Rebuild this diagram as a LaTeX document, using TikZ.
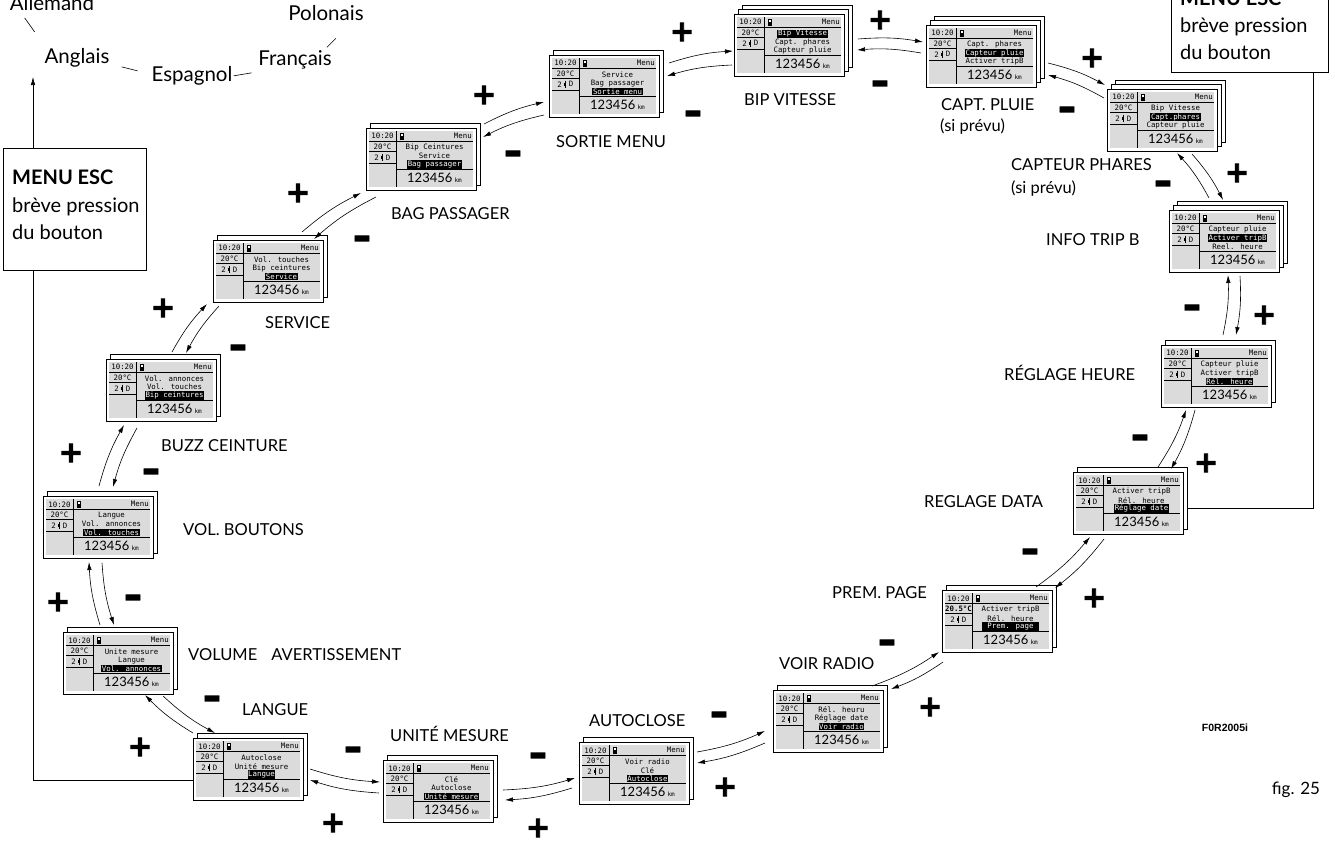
\documentclass[tikz,border=0pt]{standalone}
\usepackage{fontspec}
\setmainfont{Lato}
\newfontfamily\lcdf{DejaVu Sans Mono}
\newfontfamily\heavy{DejaVu Sans Bold}[FakeBold=3]
\newfontfamily\arialf{Liberation Sans}
\usetikzlibrary{arrows.meta,calc}
\definecolor{lcdgray}{gray}{0.86}
\newcommand\hlt[1]{{\setlength{\fboxsep}{0.6pt}\colorbox{black}{\textcolor{white}{#1}}}}
\tikzset{
  layer/.style={draw,fill=white,line width=0.7pt},
  scrn/.style={draw,fill=white,line width=0.7pt,anchor=north west,inner sep=0pt,minimum width=110pt,minimum height=62pt},
  lcdline/.style={line width=0.6pt},
  lcdt/.style={inner sep=0pt,font=\lcdf\fontsize{7.4}{8}\selectfont},
  lab/.style={anchor=mid west,inner sep=0pt,font=\fontsize{16.5}{18}\selectfont},
  lang/.style={anchor=mid,inner sep=0pt,font=\fontsize{20.5}{22}\selectfont},
  plus/.style={inner sep=0pt,font=\heavy\fontsize{29}{29}\selectfont},
  minus/.style={inner sep=0pt,font=\heavy\fontsize{24}{24}\selectfont},
  arr/.style={-{Latex[length=8pt,width=4.5pt]},line width=0.6pt},
  cw/.style={bend left=7},
  ccw/.style={bend right=7},
}
\newcommand\lcd[8]{%
  \ifnum#4>2\relax \draw[layer] (#2+8,#3-9) rectangle ++(110,62);\fi
  \draw[layer] (#2+4,#3-4.5) rectangle ++(110,62);
  \node[scrn] (#1) at (#2,#3) {};
  \begin{scope}[shift={(#1.north west)}]
    \fill[lcdgray] (3,3) rectangle (107,59);
    \draw[lcdline] (30,3) -- (30,59) (3,13) -- (107,13) (3,23.5) -- (30,23.5) (3,35) -- (30,35) (30,41.5) -- (107,41.5);
    \node[lcdt] at (16.5,8.3) {10:20};
    \node[lcdt] at (16.5,18.6) {#8};
    \node[lcdt] at (10.5,29.3) {2};
    \node[lcdt] at (22,29.3) {D};
    \draw[line width=0.5pt] (16,25.5) -- (16,33);
    \fill (15,27.5) rectangle (17,30.5);
    \fill (33.5,5) rectangle (38,12);
    \fill[white] (34.5,6.2) rectangle (37,8);
    \node[lcdt,anchor=east] at (106,8.3) {Menu};
    \node[lcdt] at (68.5,19.8) {#5};
    \node[lcdt] at (68.5,28.1) {#6};
    \node[lcdt] at (68.5,36.5) {#7};
    \node[inner sep=0pt] at (68.5,50.3) {\fontsize{13}{14}\selectfont 123456\,{\lcdf\fontsize{6}{6}\selectfont km}};
  \end{scope}}
\begin{document}
\begin{tikzpicture}[x=1pt,y=-1pt]
\useasboundingbox (0,0) rectangle (1335,846);
% screens
\lcd{vola}{63}{632}{2}{Unite mesure}{Langue}{\hlt{Vol. annonces}}{20°C}
\lcd{volb}{43}{496}{2}{Langue}{Vol. annonces}{\hlt{Vol. touches}}{20°C}
\lcd{buzz}{106}{359}{2}{Vol. annonces}{Vol. touches}{\hlt{Bip ceintures}}{20°C}
\lcd{serv}{213}{240}{2}{Vol. touches}{Bip ceintures}{\hlt{Service}}{20°C}
\lcd{bag}{366}{128}{2}{Bip Ceintures}{Service}{\hlt{Bag passager}}{20°C}
\lcd{sortie}{549}{55}{2}{Service}{Bag passager}{\hlt{Sortie menu}}{20°C}
\lcd{bip}{734}{14}{3}{\hlt{Bip Vitesse}}{Capt. phares}{Capteur pluie}{20°C}
\lcd{pluie}{926}{25}{3}{Capt. phares}{\hlt{Capteur pluie}}{Activer tripB}{20°C}
\lcd{phares}{1107}{89}{3}{Bip Vitesse}{\hlt{Capt.phares}}{Capteur pluie}{20°C}
\lcd{trip}{1169}{210}{3}{Capteur pluie}{\hlt{Activer tripB}}{Reel. heure}{20°C}
\lcd{rheure}{1161}{345}{2}{Capteur pluie}{Activer tripB}{\hlt{Rél. heure}}{20°C}
\lcd{rdata}{1073}{472}{2}{Activer tripB}{Rél. heure}{\hlt{Réglage date}}{20°C}
\lcd{prem}{942}{590}{2}{Activer tripB}{Rél. heure}{\hlt{\ Prem. page\ }}{\textbf{20.5°C}}
\lcd{voir}{773}{690}{2}{Rél. heuru}{Réglage date}{\hlt{Voir radio}}{20°C}
\lcd{auto}{579}{742}{2}{Voir radio}{Clé}{\hlt{Autoclose}}{20°C}
\lcd{unite}{383}{760}{2}{Clé}{Autoclose}{\hlt{Unité mesure}}{20°C}
\lcd{langue}{193}{738}{2}{Autoclose}{Unité mesure}{\hlt{Langue}}{20°C}
% arrow pairs
\draw[arr] ($(langue.north west)+(0,-5)$) to[cw] ($(vola.north west)+(82,63)$);
\draw[arr] ($(vola.north west)+(100,64)$) to[ccw] ($(langue.north west)+(22,-5)$);
\draw[arr] ($(vola.north west)+(37,-7)$) to[cw] ($(volb.north west)+(46,66)$);
\draw[arr] ($(volb.north west)+(59,67)$) to[ccw] ($(vola.north west)+(51,-7)$);
\draw[arr] ($(volb.north west)+(56,-10)$) to[cw] ($(buzz.north west)+(18,66)$);
\draw[arr] ($(buzz.north west)+(31,69)$) to[ccw] ($(volb.north west)+(70,-9)$);
\draw[arr] ($(buzz.north west)+(66,-7)$) to[cw] ($(serv.north west)+(-6,64)$);
\draw[arr] ($(serv.north west)+(6,66)$) to[ccw] ($(buzz.north west)+(80,-6)$);
\draw[arr] ($(serv.north west)+(89,-8)$) to[cw] ($(bag.north west)+(-5,65)$);
\draw[arr] ($(bag.north west)+(10,69)$) to[ccw] ($(serv.north west)+(101,-1)$);
\draw[arr] ($(bag.north west)+(118,-4)$) to[cw] ($(sortie.north west)+(-5,47)$);
\draw[arr] ($(sortie.north west)+(-5,60)$) to[ccw] ($(bag.north west)+(117,9)$);
\draw[arr] ($(sortie.north west)+(120,8)$) to[cw] ($(bip.north west)+(-1,37)$);
\draw[arr] ($(bip.north west)+(-2,51)$) to[ccw] ($(sortie.north west)+(118,21)$);
\draw[arr] ($(bip.north west)+(124,25)$) to[cw] ($(pluie.north west)+(-3,17)$);
\draw[arr] ($(pluie.north west)+(-5,28)$) to[ccw] ($(bip.north west)+(123,36)$);
\draw[arr] ($(pluie.north west)+(122,38)$) to[cw] ($(phares.north west)+(-2,-4)$);
\draw[arr] ($(phares.north west)+(-3,9)$) to[ccw] ($(pluie.north west)+(122,50)$);
\draw[arr] ($(trip.north west)+(40,-12)$) to[ccw] ($(phares.north west)+(70,64)$);
\draw[arr] ($(phares.north west)+(85,65)$) to[cw] ($(trip.north west)+(54,-10)$);
\draw[arr] ($(rheure.north west)+(62,-10)$) to[ccw] ($(trip.north west)+(59,65)$);
\draw[arr] ($(trip.north west)+(71,66)$) to[cw] ($(rheure.north west)+(75,-10)$);
\draw[arr] ($(rdata.north west)+(85,-5)$) to[ccw] ($(rheure.north west)+(25,65)$);
\draw[arr] ($(rheure.north west)+(34,65)$) to[cw] ($(rdata.north west)+(98,-3)$);
\draw[arr] ($(prem.north west)+(94,-3)$) to[ccw] ($(rdata.north west)+(17,65)$);
\draw[arr] ($(rdata.north west)+(31,67)$) to[cw] ($(prem.north west)+(113,-2)$);
\draw[arr] ($(voir.north west)+(99,-4)$) to[ccw] ($(prem.north west)+(-3,62)$);
\draw[arr] ($(prem.north west)+(1,72)$) to[cw] ($(voir.north west)+(118,-1)$);
\draw[arr] ($(auto.north west)+(118,10)$) to[ccw] ($(voir.north west)+(-8,41)$);
\draw[arr] ($(voir.north west)+(-8,53)$) to[cw] ($(auto.north west)+(118,21)$);
\draw[arr] ($(unite.north west)+(120,30)$) to[ccw] ($(auto.north west)+(-4,36)$);
\draw[arr] ($(auto.north west)+(-7,46)$) to[cw] ($(unite.north west)+(122,40)$);
\draw[arr] ($(langue.north west)+(117,31)$) to[ccw] ($(unite.north west)+(-3,22)$);
\draw[arr] ($(unite.north west)+(-4,33)$) to[cw] ($(langue.north west)+(117,42)$);
% return lines
\coordinate (lcorner) at (33,780);
\coordinate (ltip) at (33,77);
\draw[arr] ($(langue.north west)+(0,42)$) -- (lcorner) -- (ltip);
\node[draw,fill=white,line width=0.7pt,anchor=north west,minimum width=143pt,minimum height=122pt,inner sep=0pt] (escL) at (3,148) {};
\node[anchor=west,align=left,inner sep=0pt,font=\fontsize{20}{27.5}\selectfont] (escLt) at (12,205) {\textbf{MENU ESC}\\brève pression\\du bouton};
\node[draw,fill=white,line width=0.7pt,anchor=south west,minimum width=157pt,minimum height=120pt,inner sep=0pt] (escR) at (1171,73) {};
\node[anchor=west,align=left,inner sep=0pt,font=\fontsize{20}{27}\selectfont] (escRt) at (1180,25) {\textbf{MENU ESC}\\brève pression\\du bouton};
\coordinate (rcorner) at (1313,508);
\draw[line width=0.7pt] ($(rdata.north west)+(114,36)$) -- (rcorner) -- (escR.south -| rcorner);
% languages
\node[lang] (allemand) at (52,8) {Allemand};
\node[lang] (polonais) at (326,18) {Polonais};
\node[lang] (anglais) at (77,61) {Anglais};
\node[lang] (espagnol) at (192,79) {Espagnol};
\node[lang] (francais) at (295,63) {Français};
\draw[line width=0.6pt] ($(allemand.south west)+(15,7)$) -- ++(10,14);
\draw[line width=0.6pt] ($(anglais.east)+(12,9)$) -- ++(16,4);
\draw[line width=0.6pt] ($(espagnol.east)+(1,0)$) -- ++(18,-3);
\draw[line width=0.6pt] ($(francais.north east)+(-5,-3)$) -- ++(9,-9);
% labels
\node[lab] (tLangue) at (242,713) {LANGUE};
\node[lab] (tVolAv) at (188,658) {VOLUME\hspace{14pt}AVERTISSEMENT};
\node[lab] (tVolB) at (183,533) {VOL. BOUTONS};
\node[lab] (tBuzz) at (161,449) {BUZZ CEINTURE};
\node[lab] (tServ) at (265,326) {SERVICE};
\node[lab] (tBag) at (391,217) {BAG PASSAGER};
\node[lab] (tSortie) at (556,145) {SORTIE MENU};
\node[lab] (tBip) at (744,103) {BIP VITESSE};
\node[lab] (tPluie) at (941,108) {CAPT. PLUIE};
\node[lab] (tPluieb) at (940,129) {(si prévu)};
\node[lab] (tPhares) at (1011,168) {CAPTEUR PHARES};
\node[lab] (tPharesb) at (1011,191) {(si prévu)};
\node[lab] (tTrip) at (1046,243) {INFO TRIP B};
\node[lab] (tHeure) at (1004,378) {RÉGLAGE HEURE};
\node[lab] (tData) at (924,505) {REGLAGE DATA};
\node[lab] (tPrem) at (832,596) {PREM. PAGE};
\node[lab] (tVoir) at (779,667) {VOIR RADIO};
\node[lab] (tAuto) at (589,724) {AUTOCLOSE};
\node[lab] (tUnite) at (390,739) {UNITÉ MESURE};
\node[inner sep=0pt,font=\arialf\bfseries\fontsize{10.5}{12}\selectfont] (code) at (1225,728) {F0R2005i};
\node[inner sep=0pt,font=\fontsize{17}{18}\selectfont] (fig) at (1296,790) {fig. 25};
% plus signs
\foreach \x/\y [count=\i] in {140/747,58/602,71/453,163/308,298/193,484/95,682/32,880/20,1092/58,1237/173,1264/315,1206/463,1094/598,930/707,725/787,538/828,333/823}
  \node[plus] (p\i) at (\x,\y) {+};
% minus signs
\foreach \x/\y [count=\i] in {212/704,133/603,151/477,238/353,362/244,513/159,693/119,880/89,1067/115,1163/189,1192/313,1140/443,1030/557,887/648,719/720,538/761,353/755}
  \node[minus] (m\i) at (\x,\y) {\scalebox{0.95}[1.8]{−}};
\end{tikzpicture}
\end{document}
